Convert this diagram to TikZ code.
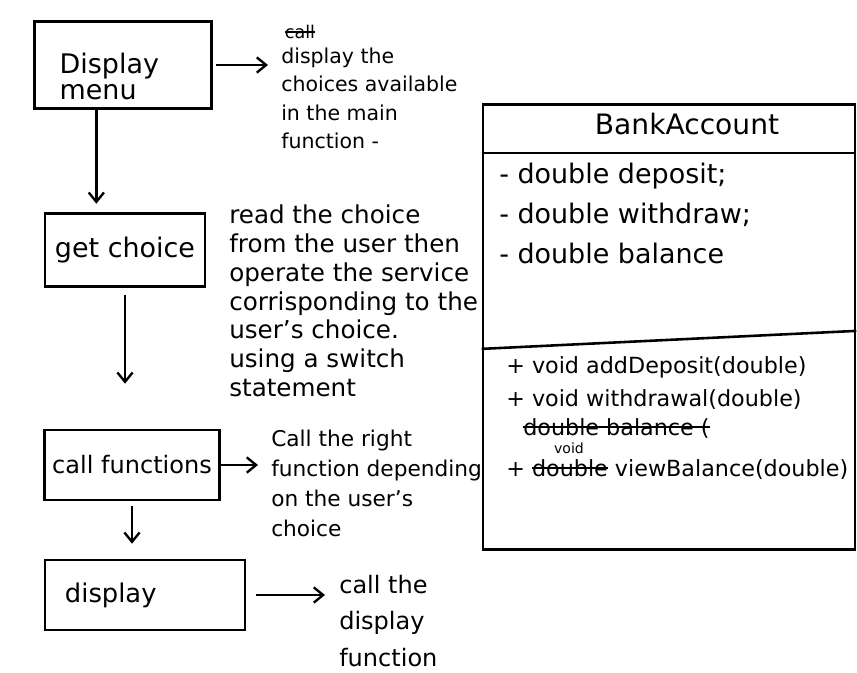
\documentclass[tikz,border=0pt]{standalone}
\usepackage{fontspec}
\setmainfont{DejaVu Sans}
\usetikzlibrary{arrows.meta}

\newsavebox{\strikebox}
\newcommand{\struck}[1]{\sbox{\strikebox}{#1}\rlap{\rule[0.3em]{\wd\strikebox}{1.6pt}}\usebox{\strikebox}}
\newcommand{\fsz}[2]{\fontsize{#1}{#2}\selectfont}

\tikzset{
  stepbox/.style={draw, rectangle, line width=2.2pt},
  note/.style={anchor=north west, align=left, inner sep=0pt},
  arr/.style={-{Straight Barb[length=8pt,width=13pt]}, line width=2pt},
}

\begin{document}
\begin{tikzpicture}[x=0.03cm, y=-0.03cm, line width=2.2pt]
        \useasboundingbox (0,0) rectangle (857,673);

        % flow on the left
        \node (menu) at (123, 65) [stepbox, minimum width=5.3cm, minimum height=2.6cm, text width=3.8cm, align=left, font=\fsz{23}{22}] {\rule{0pt}{1.3cm}Display\\menu};
        \node (choice) at (125,250) [stepbox, minimum width=4.8cm, minimum height=2.2cm, font=\fsz{23}{26}] {get choice};
        \node (calls) at (132,465) [stepbox, minimum width=5.25cm, minimum height=2.1cm, font=\fsz{20.5}{24}] {call functions};
        \node (disp) at (145,595) [stepbox, minimum width=6cm, minimum height=2.1cm, text width=4.8cm, align=left, font=\fsz{22}{26}] {display};

        \node (scrawl) at (300, 32) [font=\fsz{15}{17}] {\struck{call}};
        \node (note1) at (280, 47) [note, font=\fsz{17.5}{24}] {display the\\choices available\\in the main\\function -};
        \node (note2) at (228,204) [note, font=\fsz{21}{24.5}] {read the choice\\from the user then\\operate the service\\corrisponding to the\\user's choice.\\using a switch\\statement};
        \node (note3) at (270,429) [note, font=\fsz{18.5}{25.6}] {Call the right\\function depending\\on the user's\\choice};
        \node (note4) at (338,574) [note, font=\fsz{20.5}{31}] {call the\\display\\function};

        \draw[arr, shorten <=0.1cm, shorten >=0.36cm] (menu.east) -- (menu.east -| note1.west);
        \draw[arr, shorten >=0.25cm] ([xshift=-0.8cm]menu.south) -- ([xshift=-0.8cm]menu.south |- choice.north);
        \draw[arr, shorten <=0.2cm, shorten >=1.35cm] (choice.south) -- (choice.south |- calls.north);
        \draw[arr, shorten >=0.36cm] (calls.east) -- (calls.east -| note3.west);
        \draw[arr, shorten <=0.15cm, shorten >=0.45cm] (calls.south) -- (calls.south |- disp.north);
        \draw[arr, shorten <=0.3cm, shorten >=0.39cm] (disp.east) -- (disp.east -| note4.west);

        % class box
        \node (bank) at (669,327) [stepbox, minimum width=11.16cm, minimum height=13.35cm] {};
        \node (title) at (687,124) [font=\fsz{24}{28}] {BankAccount};
        \draw ([yshift=-1.5cm]bank.north west) -- ([yshift=-1.5cm]bank.north east);
        \draw ([yshift=-7.37cm]bank.north west) -- ([yshift=-6.83cm]bank.north east);
        \node (attrs) at (498,162) [note, font=\fsz{23}{34}] {- double deposit;\\- double withdraw;\\- double balance};
        \node (ops) at (505,355) [note, font=\fsz{19}{28}] {+ void addDeposit(double)\\+ void withdrawal(double)};
        \node (dropped) at (522,435) [anchor=base west, inner sep=0pt, font=\fsz{19}{22}] {\struck{double balance (}};
        \node (view) at (505,476) [anchor=base west, inner sep=0pt, font=\fsz{19}{22}] {+ \struck{double} viewBalance(double)};
        \node (fix) at (569,448) [inner sep=0pt, font=\fsz{12}{14}] {void};
    \end{tikzpicture}
\end{document}
